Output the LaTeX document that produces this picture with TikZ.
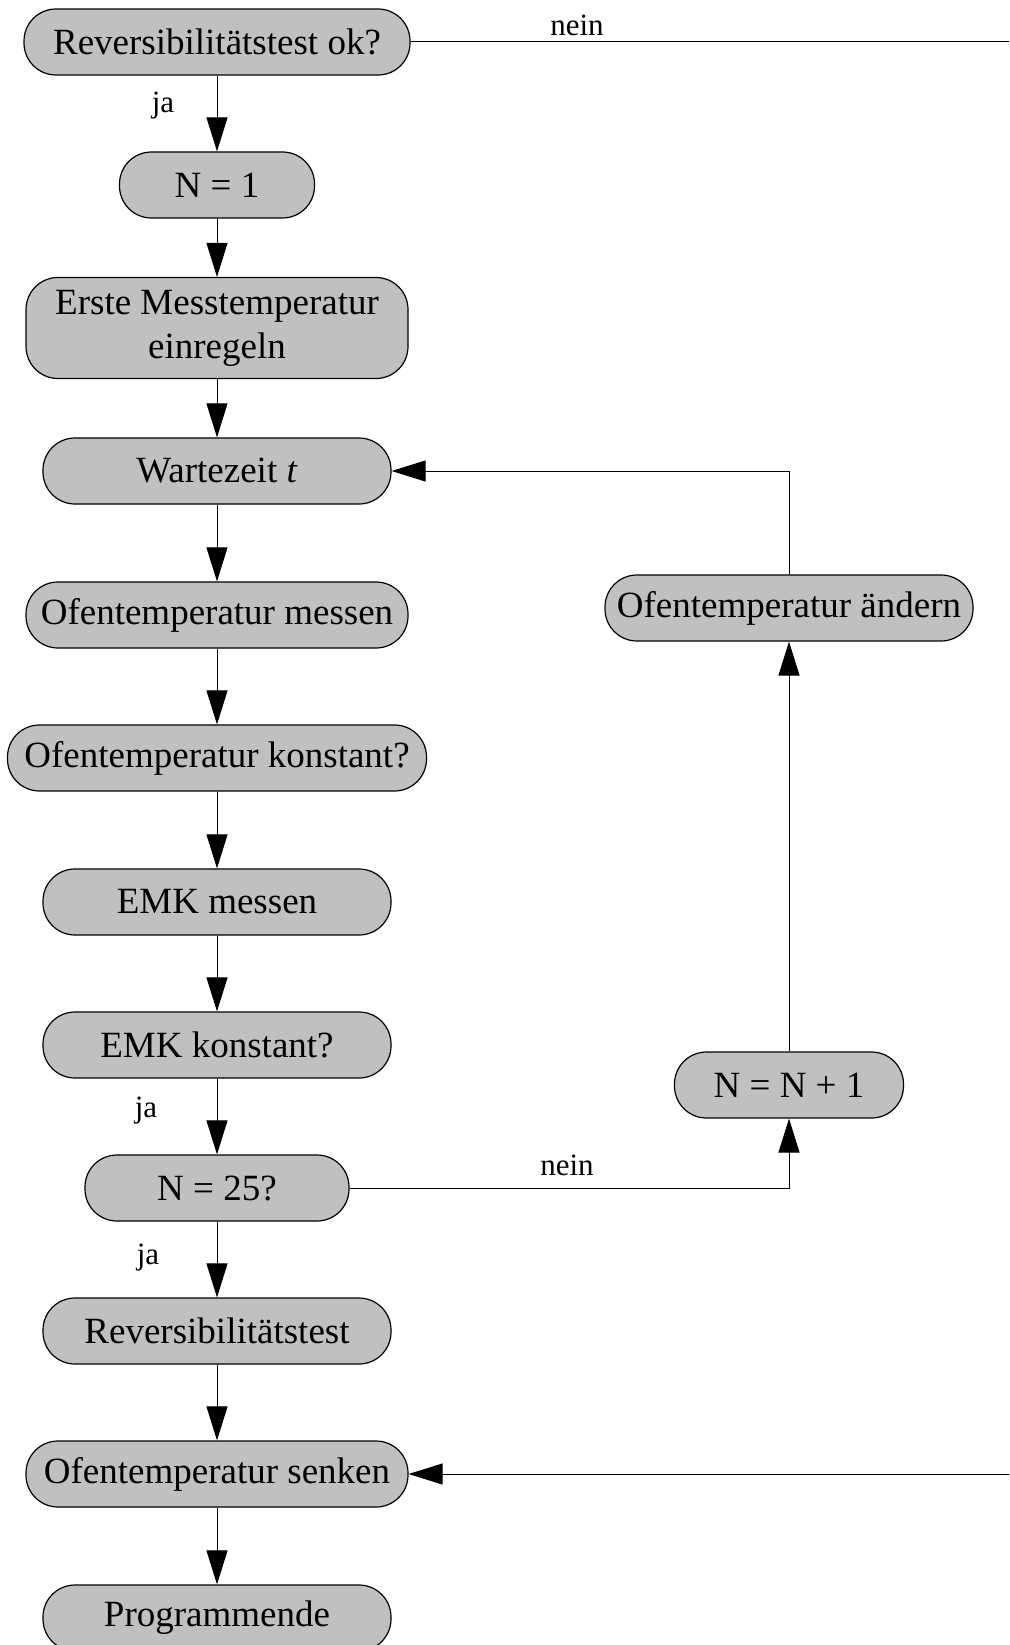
\documentclass[tikz,border=0pt]{standalone}
\usepackage{fontspec}
\setmainfont{Liberation Serif}
\usetikzlibrary{arrows.meta}
\definecolor{boxgray}{RGB}{192,192,192}
\tikzstyle{proc}=[rectangle,rounded corners=32pt,draw=black,line width=1.2pt,fill=boxgray,minimum height=66pt,inner sep=2pt,align=center,font=\fontsize{37}{44}\selectfont]
\tikzstyle{lbl}=[font=\fontsize{31}{36}\selectfont,inner sep=0pt]
\tikzstyle{arr}=[line width=1pt,-{Triangle[length=34pt,width=21pt]}]

\begin{document}
\begin{tikzpicture}[x=1pt,y=-1pt]
\useasboundingbox (0,0) rectangle (1009,1645);
% main column
\node[proc,minimum width=386pt] (rev) at (217,42) {Reversibilitätstest ok?};
\node[proc,minimum width=195pt] (n1) at (217,185) {N = 1};
\node[proc,minimum width=382pt,minimum height=101pt] (erste) at (217,328) {Erste Messtemperatur\\einregeln};
\node[proc,minimum width=348pt] (wart) at (217,471) {Wartezeit \textit{t}};
\node[proc,minimum width=382pt] (messen) at (217,615) {Ofentemperatur messen};
\node[proc,minimum width=419pt] (konst) at (217,758) {Ofentemperatur konstant?};
\node[proc,minimum width=348pt] (emk) at (217,902) {EMK messen};
\node[proc,minimum width=348pt] (emkk) at (217,1045) {EMK konstant?};
\node[proc,minimum width=264pt] (n25) at (217,1188) {N = 25?};
\node[proc,minimum width=348pt] (revt) at (217,1331) {Reversibilitätstest};
\node[proc,minimum width=382pt] (senken) at (217,1474) {Ofentemperatur senken};
\node[proc,minimum width=348pt] (ende) at (217,1618) {Programmende};
% right column
\node[proc,minimum width=368pt] (aend) at (789,608) {Ofentemperatur ändern};
\node[proc,minimum width=229pt] (nn1) at (789,1085) {N = N + 1};
% free ends at the right edge
\coordinate (outtop) at (1009,42);
\coordinate (inbot) at (1009,1474);
% labels
\node[lbl] (ja1) at (163,106) {ja};
\node[lbl] (ja2) at (146,1111) {ja};
\node[lbl] (ja3) at (148,1258) {ja};
\node[lbl] (nein1) at (577,25) {nein};
\node[lbl] (nein2) at (567,1165) {nein};
% connectors
\draw[arr] (rev) -- (n1);
\draw[arr] (n1) -- (erste);
\draw[arr] (erste) -- (wart);
\draw[arr] (wart) -- (messen);
\draw[arr] (messen) -- (konst);
\draw[arr] (konst) -- (emk);
\draw[arr] (emk) -- (emkk);
\draw[arr] (emkk) -- (n25);
\draw[arr] (n25) -- (revt);
\draw[arr] (revt) -- (senken);
\draw[arr] (senken) -- (ende);
\draw[line width=1pt] (rev.east) -- (outtop);
\draw[arr] (inbot) -- (senken.east);
\draw[arr] (n25.east) -| (nn1.south);
\draw[arr] (nn1) -- (aend);
\draw[arr] (aend.north) |- (wart.east);
\end{tikzpicture}
\end{document}
